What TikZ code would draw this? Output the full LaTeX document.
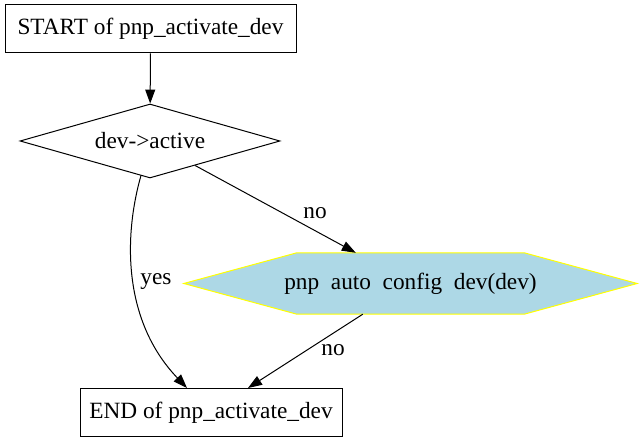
\documentclass[tikz,border=0pt]{standalone}
\usepackage{fontspec}
\setmainfont{Liberation Serif}
\usetikzlibrary{shapes.geometric,arrows.meta,calc}
\definecolor{lblue}{RGB}{173,216,230}
\definecolor{yel}{RGB}{255,255,0}
\tikzset{
  every node/.style={font=\fontsize{23.3pt}{26pt}\selectfont},
  boxnode/.style={draw, line width=1pt, minimum height=48pt, inner sep=0pt, anchor=center},
  decnode/.style={draw, shape=diamond, line width=1pt, minimum width=260pt, minimum height=74pt, inner sep=0pt},
  hexnode/.style={draw=none, minimum width=453pt, minimum height=61pt, inner sep=0pt},
  edge/.style={line width=1pt, -{Triangle[length=14pt,width=10pt]}},
  elabel/.style={inner sep=1pt}
}
\begin{document}
\begin{tikzpicture}[x=1pt,y=-1pt]
\useasboundingbox (0,0) rectangle (643,443);
\node[boxnode, minimum width=291pt] (s) at (150.5,29) {START of pnp\_activate\_dev};
\node[decnode] (d) at (150,141) {};
\node (dt) at (d) {dev->active};
\node[hexnode] (h) at (410.5,283.5) {};
\filldraw[fill=lblue, draw=yel, line width=1pt]
  (h.west) -- ($(h.north west)+(113,0)$) -- ($(h.north east)+(-113,0)$) -- (h.east)
  -- ($(h.south east)+(-113,0)$) -- ($(h.south west)+(113,0)$) -- cycle;
\node (ht) at (h) {pnp\ \ auto\ \ config\ \ dev(dev)};
\node[boxnode, minimum width=262pt] (e) at (211,412.5) {END of pnp\_activate\_dev};
\coordinate (hin) at ($(h.north west)+(172,0)$);
\coordinate (hout) at ($(h.south west)+(179,0)$);
\draw[edge] (s) -- (d);
\draw[edge] (d) -- (hin);
\draw[edge] ($(d.south)+(-9,-3)$) .. controls (124,235) and (122,320) .. ($(e.north)+(-24,0)$);
\draw[edge] (hout) -- ($(e.north)+(37,0)$);
\node[elabel] (l1) at (315,213) {no};
\node[elabel] (l2) at (156,282) {yes};
\node[elabel] (l3) at (333,350) {no};
\end{tikzpicture}
\end{document}
